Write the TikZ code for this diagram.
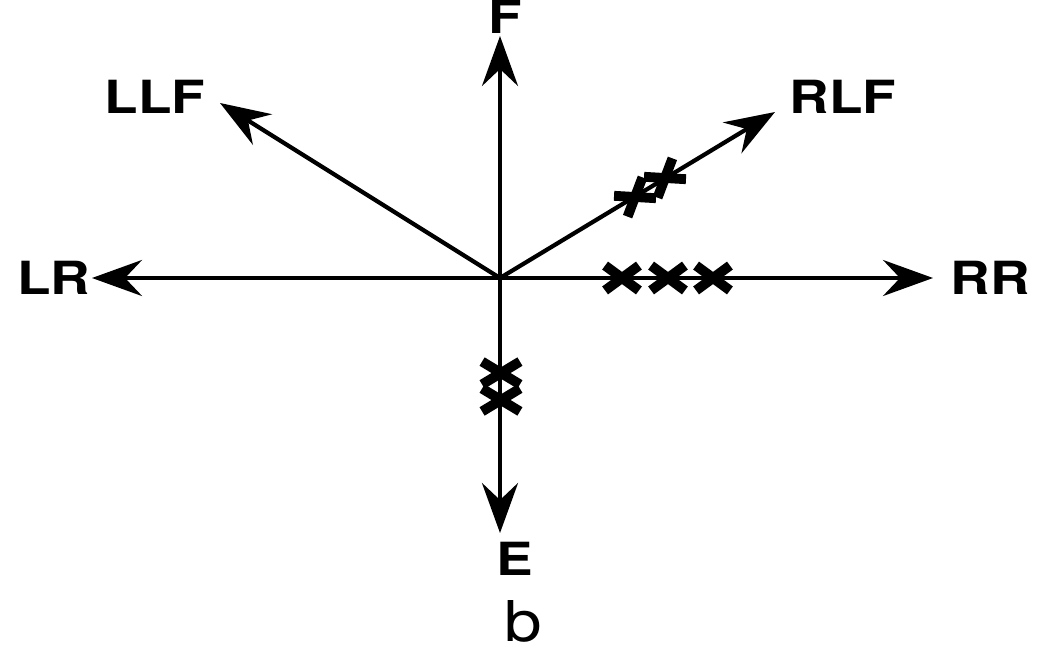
\documentclass[tikz,border=0pt]{standalone}
\usepackage{fontspec}
\setsansfont{TeX Gyre Heros}
\usetikzlibrary{arrows.meta,positioning,shapes.misc}

\begin{document}
\begin{tikzpicture}[lbl/.style={font=\sffamily\bfseries\fontsize{13}{15}\selectfont,xscale=1.2,inner sep=0pt},
  arr/.style={line width=1.2pt,-{Stealth[length=0.5cm,width=0.36cm,inset=0.17cm]}},
  mk/.style={draw,cross out,line width=2.8pt,minimum width=0.24cm,minimum height=0.15cm,inner sep=0pt}]
\useasboundingbox (0,0) rectangle (10.43,6.52);
\coordinate (o) at (5.00,3.74);
\coordinate (tf) at (5.00,6.16);
\coordinate (tllf) at (2.20,5.49);
\coordinate (trlf) at (7.75,5.40);
\coordinate (tlr) at (0.92,3.74);
\coordinate (trr) at (9.33,3.74);
\coordinate (te) at (5.00,1.19);
\node[lbl] (f) at (5.05,6.35) {F};
\node[lbl] (llf) at (1.55,5.55) {LLF};
\node[lbl] (rlf) at (8.43,5.55) {RLF};
\node[lbl] (lr) at (0.54,3.74) {LR};
\node[lbl] (rr) at (9.90,3.74) {RR};
\node[lbl] (e) at (5.15,0.93) {E};
\node[lbl,font=\sffamily\fontsize{16}{18}\selectfont] (b) at (5.23,0.31) {b};
\foreach \t in {tf,tllf,trlf,tlr,trr,te}
  \draw[arr] (o) -- (\t);
% marks
\foreach \x in {6.22,6.68,7.13}
  \node[mk] at (\x,3.74) {};
\foreach \y in {2.79,2.52}
  \node[mk,minimum width=0.28cm,minimum height=0.13cm] at (5.01,\y) {};
\node[mk,rotate=33] at (6.35,4.55) {};
\node[mk,rotate=33] at (6.65,4.74) {};
\end{tikzpicture}
\end{document}
